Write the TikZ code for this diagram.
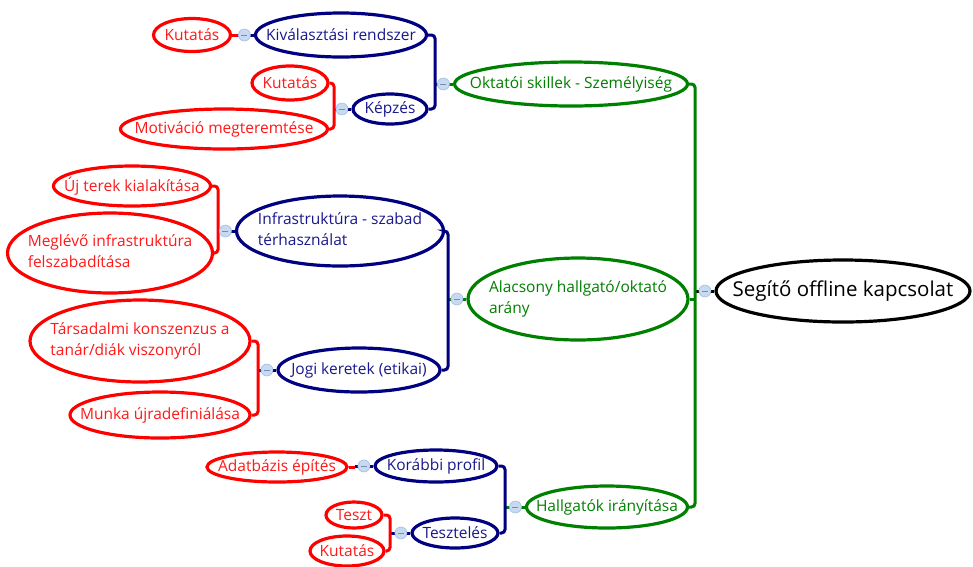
\documentclass[tikz,border=0pt]{standalone}
\usepackage{fontspec}
\setmainfont{Open Sans}
\usetikzlibrary{shapes.geometric,calc}

\definecolor{mgreen}{RGB}{0,128,0}
\definecolor{mnavy}{RGB}{0,0,128}
\definecolor{mred}{RGB}{255,0,0}
\definecolor{knobfill}{RGB}{200,218,242}
\definecolor{knobline}{RGB}{160,188,228}
\definecolor{knobminus}{RGB}{120,140,175}

\tikzset{
  topic/.style={ellipse, draw, line width=3.2pt, inner sep=0pt, fill=white,
    font=\fontsize{15.5}{21}\selectfont},
  roottopic/.style={topic, draw=black, text=black, font=\fontsize{20.5}{25}\selectfont},
  maintopic/.style={topic, draw=mgreen, text=mgreen},
  subtopic/.style={topic, draw=mnavy, text=mnavy!90!white},
  leaftopic/.style={topic, draw=mred, text=mred!90!white},
  link/.style={line width=3pt},
  bracket/.style={line width=3pt, rounded corners=3.5pt},
  knob/.style={circle, minimum size=12pt, inner sep=0pt, fill=knobfill, draw=knobline, line width=0.6pt,
    path picture={\draw[knobminus, line width=0.8pt] ([xshift=-3pt]path picture bounding box.center) -- ([xshift=3pt]path picture bounding box.center);}},
}

% a centred label whose own box does not widen the ellipse
\newcommand{\lbl}[1]{\makebox[0pt]{#1}}
\newcommand{\lbltwo}[2]{\makebox[0pt]{\begin{tabular}{@{}l@{}}#1\\#2\end{tabular}}}

\begin{document}
\begin{tikzpicture}[x=1pt,y=-1pt]
\useasboundingbox (0,0) rectangle (973,566);

% ---- topics ----
\node[roottopic, minimum width=254, minimum height=62] (root) at (843,291) {\lbl{Segítő offline kapcsolat}};

\node[maintopic, minimum width=233, minimum height=44] (okt) at (571,84) {\lbl{Oktatói skillek - Személyiség}};
\node[maintopic, minimum width=220, minimum height=82] (ala) at (578,299) {\lbltwo{Alacsony hallgató/oktató}{arány}};
\node[maintopic, minimum width=161, minimum height=42] (hal) at (607,507) {\lbl{Hallgatók irányítása}};

\node[subtopic, minimum width=171, minimum height=44] (kiv) at (341,35) {\lbl{Kiválasztási rendszer}};
\node[subtopic, minimum width=74, minimum height=30] (kep) at (390,109) {\lbl{Képzés}};
\node[subtopic, minimum width=207, minimum height=70] (inf) at (340,231) {\lbltwo{Infrastruktúra - szabad}{térhasználat}};
\node[subtopic, minimum width=162, minimum height=44] (jog) at (359,370) {\lbl{Jogi keretek (etikai)}};
\node[subtopic, minimum width=122, minimum height=32] (kor) at (436,466) {\lbl{Korábbi profil}};
\node[subtopic, minimum width=86, minimum height=30] (tes) at (455,533) {\lbl{Tesztelés}};

\node[leaftopic, minimum width=77, minimum height=33] (kut1) at (192,35) {\lbl{Kutatás}};
\node[leaftopic, minimum width=76, minimum height=34] (kut2) at (290,83) {\lbl{Kutatás}};
\node[leaftopic, minimum width=207, minimum height=40] (mot) at (224,129) {\lbl{Motiváció megteremtése}};
\node[leaftopic, minimum width=157, minimum height=40] (uj) at (132,186) {\lbl{Új terek kialakítása}};
\node[leaftopic, minimum width=205, minimum height=80] (meg) at (110,253) {\lbltwo{Meglévő infrastruktúra}{felszabadítása}};
\node[leaftopic, minimum width=220, minimum height=82] (tar) at (140,341) {\lbltwo{Társadalmi konszenzus a}{tanár/diák viszonyról}};
\node[leaftopic, minimum width=180, minimum height=46] (mun) at (160,415) {\lbl{Munka újradefiniálása}};
\node[leaftopic, minimum width=140, minimum height=30] (ada) at (277,467) {\lbl{Adatbázis építés}};
\node[leaftopic, minimum width=56, minimum height=26] (tsz) at (354,515) {\lbl{Teszt}};
\node[leaftopic, minimum width=74, minimum height=30] (kut3) at (347,551) {\lbl{Kutatás}};

% ---- bracket columns ----
\coordinate (bRoot) at (695,0);
\coordinate (bOkt) at (435,0);
\coordinate (bAla) at (448,0);
\coordinate (bHal) at (505,0);
\coordinate (bKep) at (334,0);
\coordinate (bInf) at (218,0);
\coordinate (bJog) at (258,0);
\coordinate (bTes) at (390,0);
\coordinate (bKiv) at (238,0);
\coordinate (bKor) at (355,0);

% ---- root -> main topics ----
\draw[link, black] (root.west) -- (root.west -| bRoot);
\draw[bracket, mgreen] (okt.east) -- (okt.east -| bRoot) -- (hal.east -| bRoot) -- (hal.east);
\draw[link, mgreen] (ala.east) -- (ala.east -| bRoot);

% ---- Oktatói skillek ----
\draw[link, mgreen] (okt.west) -- (okt.west -| bOkt);
\draw[bracket, mnavy] (kiv.east) -- (kiv.east -| bOkt) -- (kep.east -| bOkt) -- (kep.east);

% ---- Alacsony arány ----
\draw[link, mgreen] (ala.west) -- (ala.west -| bAla);
\draw[bracket, mnavy] (inf.east) -- (inf.east -| bAla) -- (jog.east -| bAla) -- (jog.east);

% ---- Hallgatók irányítása ----
\draw[link, mgreen] (hal.west) -- (hal.west -| bHal);
\draw[bracket, mnavy] (kor.east) -- (kor.east -| bHal) -- (tes.east -| bHal) -- (tes.east);

% ---- second level ----
\draw[link, mnavy] (kiv.west) -- (kiv.west -| bKiv);
\draw[link, mred] (kut1.east) -- (kut1.east -| bKiv);

\draw[link, mnavy] (kep.west) -- (kep.west -| bKep);
\draw[bracket, mred] (kut2.east) -- (kut2.east -| bKep) -- (mot.east -| bKep) -- (mot.east);

\draw[link, mnavy] (inf.west) -- (inf.west -| bInf);
\draw[bracket, mred] (uj.east) -- (uj.east -| bInf) -- (meg.east -| bInf) -- (meg.east);

\draw[link, mnavy] (jog.west) -- (jog.west -| bJog);
\draw[bracket, mred] (tar.east) -- (tar.east -| bJog) -- (mun.east -| bJog) -- (mun.east);

\draw[link, mnavy] (kor.west) -- (kor.west -| bKor);
\draw[link, mred] (ada.east) -- (ada.east -| bKor);

\draw[link, mnavy] (tes.west) -- (tes.west -| bTes);
\draw[bracket, mred] (tsz.east) -- (tsz.east -| bTes) -- (kut3.east -| bTes) -- (kut3.east);

% ---- collapse knobs ----
\foreach \t/\k in {root/kRoot, okt/kOkt, ala/kAla, hal/kHal, kiv/kKiv, kep/kKep, inf/kInf, jog/kJog, kor/kKor, tes/kTes}
  \node[knob] (\k) at ($(\t.west)+(-9.5,0)$) {};
\end{tikzpicture}
\end{document}
